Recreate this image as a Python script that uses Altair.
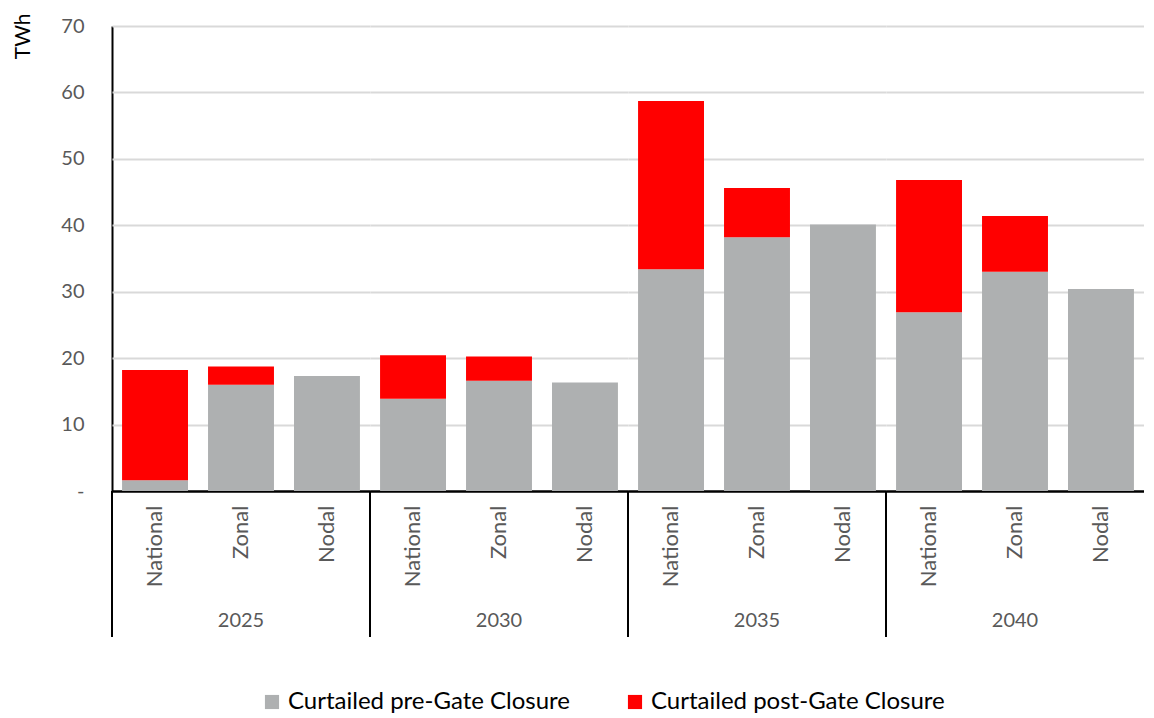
import altair as alt
import pandas as pd

years = ["2025", "2030", "2035", "2040"]
models = ["National", "Zonal", "Nodal"]
series_names = ["Curtailed pre-Gate Closure", "Curtailed post-Gate Closure"]
pre_gate = [1.6, 16.0, 17.3, 13.9, 16.6, 16.35, 33.4, 38.2, 40.1, 26.9, 33.0, 30.4]
post_gate = [16.6, 2.75, 0.0, 6.55, 3.65, 0.0, 25.3, 7.4, 0.0, 19.9, 8.4, 0.0]
y_ticks = [0, 10, 20, 30, 40, 50, 60, 70]

rows = []
i = 0
for yr in years:
    for m in models:
        rows.append({"year": yr, "model": m, "series": series_names[0], "order": 0, "value": pre_gate[i]})
        rows.append({"year": yr, "model": m, "series": series_names[1], "order": 1, "value": post_gate[i]})
        i += 1
df = pd.DataFrame(rows)

FONT = "Lato"
W, H = 258, 465

bars = alt.Chart().mark_bar().encode(
    x=alt.X("model:N", sort=models, title=None,
            scale=alt.Scale(paddingInner=0.233, paddingOuter=0.117),
            axis=alt.Axis(labelAngle=-90, labelAlign="right", labelBaseline="middle",
                          labelPadding=14, ticks=False, grid=False, domainColor="#000000",
                          domainWidth=2, labelFontSize=22, labelColor="#595959",
                          labelFont=FONT)),
    y=alt.Y("value:Q", stack="zero",
            scale=alt.Scale(domain=[0, 70], nice=False),
            axis=alt.Axis(values=y_ticks, title="TWh", grid=True,
                          gridColor={"condition": {"test": "datum.value === 0", "value": "#000000"},
                                     "value": "#D9D9D9"},
                          gridWidth=2, ticks=False, domainColor="#000000", domainWidth=2,
                          labelExpr="datum.value == 0 ? '-\u00a0\u00a0\u00a0' : datum.label",
                          labelPadding=28, labelFontSize=20, labelColor="#595959",
                          labelFont=FONT, titleFont=FONT, titleFontSize=21,
                          titleFontWeight="normal", titleColor="#000000",
                          titleAngle=-90, titleAlign="right", titleBaseline="middle",
                          titleX=-89, titleY=-13)),
    color=alt.Color("series:N", scale=alt.Scale(domain=series_names, range=["#AEB0B1", "#FF0000"]),
                    legend=alt.Legend(title=None, orient="none", direction="horizontal",
                                      legendX=148, legendY=664, symbolType="square",
                                      symbolSize=200, symbolStrokeWidth=0,
                                      labelFontSize=24, labelFont=FONT, labelColor="#000000",
                                      columnPadding=52, labelLimit=400)),
    order=alt.Order("order:Q", sort="ascending"),
)

sep = alt.Chart().transform_filter(
    (alt.datum.model == "National") & (alt.datum.order == 0)
).mark_rule(color="#000000", strokeWidth=2).encode(
    x=alt.value(0), y=alt.value(H), y2=alt.value(H + 146)
)

chart = alt.layer(bars, sep, data=df).properties(width=W, height=H).facet(
    column=alt.Column("year:N", title=None, sort=years,
                      header=alt.Header(labelOrient="bottom", labelFontSize=20,
                                        labelColor="#595959", labelFont=FONT,
                                        labelPadding=24)),
    spacing=0,
    bounds="flush",
).properties(
    padding={"left": 4, "right": 0, "top": 5, "bottom": 0}
).configure(
    font=FONT,
    view=alt.ViewConfig(strokeWidth=0, stroke="transparent"),
)

chart.save("out.html", embed_options={"renderer": "svg", "actions": False})
